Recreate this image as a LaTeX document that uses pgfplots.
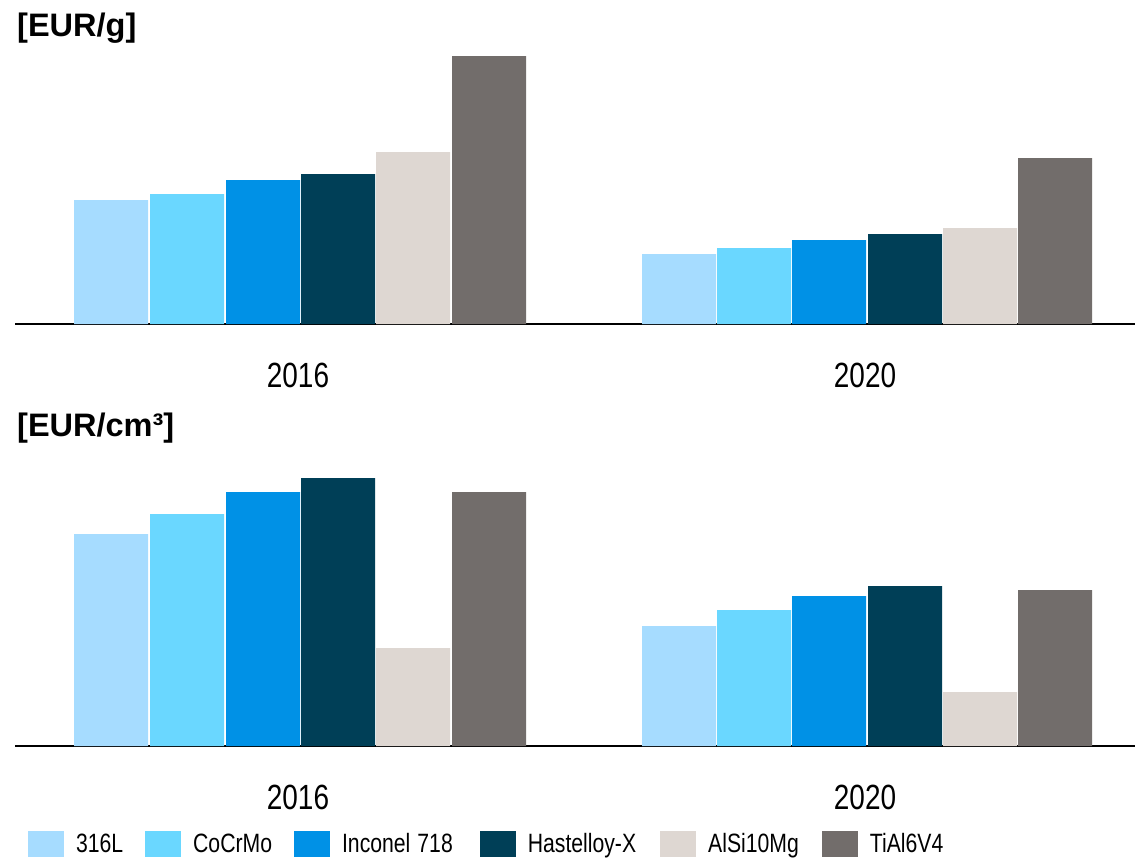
\documentclass[border=0pt]{standalone}
\usepackage{fontspec}
\setmainfont[FakeStretch=0.8]{Liberation Sans}
\newfontfamily\titlefont{Liberation Sans}
\usepackage{pgfplots}
\pgfplotsset{compat=1.18}
\definecolor{cA}{RGB}{166,220,255}
\definecolor{cB}{RGB}{106,215,255}
\definecolor{cC}{RGB}{0,145,230}
\definecolor{cD}{RGB}{0,63,87}
\definecolor{cE}{RGB}{222,215,210}
\definecolor{cF}{RGB}{114,109,107}
\pgfplotsset{
  mybars/.style={
    scale only axis, width=1120pt, height=300pt,
    xmin=15, xmax=1135, ymin=0, ymax=300,
    enlargelimits=false, clip=false,
    ybar=0pt, bar width=74,
    axis x line*=bottom, hide y axis,
    axis line style={line width=2pt,-},
    xtick={300,867}, xticklabels={2016,2020},
    major tick length=0pt,
    /pgf/number format/assume math mode=true,
    xticklabel style={font=\fontsize{35}{42}\selectfont, yshift=-36pt, xshift=-2pt},
  },
  every axis plot/.append style={draw=none, bar shift=0pt},
}
\begin{document}
\begin{tikzpicture}[x=1pt,y=1pt]
\path[use as bounding box] (0,0) rectangle (1135,-860);
\node[anchor=base west, inner sep=0pt, font=\titlefont\bfseries\fontsize{32.5}{38}\selectfont] at (17,-36) {[EUR/g]};
\node[anchor=base west, inner sep=0pt, font=\titlefont\bfseries\fontsize{32.5}{38}\selectfont] at (17,-436) {[EUR/cm³]};
\begin{axis}[mybars, at={(15pt,-324pt)}, anchor=south west]
\addplot[fill=cA] coordinates {(111,124) (679,70)};
\addplot[fill=cB] coordinates {(187,130) (754,76)};
\addplot[fill=cC] coordinates {(263,144) (829,84)};
\addplot[fill=cD] coordinates {(338,150) (905,90)};
\addplot[fill=cE] coordinates {(413,172) (980,96)};
\addplot[fill=cF] coordinates {(489,268) (1055,166)};
\end{axis}
\begin{axis}[mybars, at={(15pt,-746pt)}, anchor=south west,
  legend columns=6,
  legend style={draw=none, fill=none, at={(13pt,-98pt)}, anchor=west,
    inner sep=0pt, outer sep=0pt,
    font=\fontsize{26.5}{30}\selectfont,
    nodes={inner sep=0pt},
    /tikz/every odd column/.append style={column sep=12pt},
    /tikz/every even column/.append style={column sep=22pt}},
  legend cell align=left,
  legend image code/.code={\fill[#1] (0pt,-13pt) rectangle (36pt,13pt);},
]
\addplot[fill=cA] coordinates {(111,212) (679,120)};
\addplot[fill=cB] coordinates {(187,232) (754,136)};
\addplot[fill=cC] coordinates {(263,254) (829,150)};
\addplot[fill=cD] coordinates {(338,268) (905,160)};
\addplot[fill=cE] coordinates {(413,98) (980,54)};
\addplot[fill=cF] coordinates {(489,254) (1055,156)};
\legend{316L,CoCrMo,Inconel\hspace{7pt}718\kern5pt,Hastelloy-X\kern2pt,AlSi10Mg\kern1pt,TiAl6V4}
\end{axis}
\end{tikzpicture}
\end{document}
